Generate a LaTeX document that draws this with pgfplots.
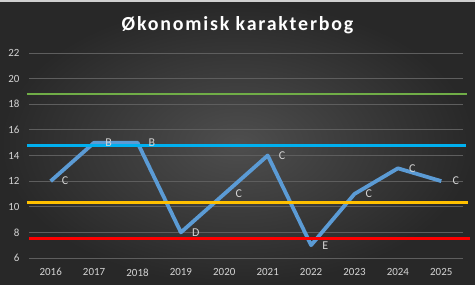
\documentclass[border=0pt]{standalone}
\usepackage{fontspec}
\setmainfont{Carlito}
\usepackage{pgfplots}
\pgfplotsset{compat=1.18}
\definecolor{bgin}{HTML}{4E4E4E}
\definecolor{bgout}{HTML}{282828}
\definecolor{strip}{HTML}{D0D0D0}
\definecolor{gridc}{HTML}{5E5E5E}
\definecolor{tickc}{HTML}{D4D4D4}
\definecolor{datablue}{HTML}{5B9BD5}
\definecolor{lblue}{HTML}{00B0F0}
\definecolor{lgreen}{HTML}{70AD47}
\definecolor{lyellow}{HTML}{FFC000}
\definecolor{lred}{HTML}{FF0000}
\begin{document}
\begin{tikzpicture}
\useasboundingbox (0,0) rectangle (475bp,285bp);
\shade[inner color=bgin, outer color=bgout] (0,0) rectangle (475bp,283bp);
\fill[strip] (0,283bp) rectangle (475bp,285bp);
\node[anchor=base, text=white, inner sep=0pt, font=\fontsize{20}{22}\selectfont\bfseries\addfontfeatures{LetterSpace=9}] at (237.5bp,254bp) {Økonomisk karakterbog};
\begin{axis}[at={(29bp,27bp)}, anchor=south west, scale only axis,
  width=434bp, height=205bp,
  xmin=-0.5, xmax=9.5, ymin=6, ymax=22,
  ytick={6,8,...,22}, xtick={0,1,2,3,4,5,6,7,8,9},
  xticklabels={2016,2017,2018,2019,2020,2021,2022,2023,2024,2025},
  axis line style={draw=none}, major tick length=0pt,
  ymajorgrids, grid style={color=gridc, line width=0.8bp},
  ticklabel style={font=\fontsize{11}{12}\selectfont, text=tickc},
  xticklabel style={yshift=-7bp},
  yticklabel style={xshift=-6bp},
  /pgf/number format/assume math mode=true,
  clip=false]
\addplot[datablue, line width=3.8bp, line join=round, mark=none,
  nodes near coords, point meta=explicit symbolic,
  nodes near coords style={anchor=west, xshift=6bp, text=tickc, font=\fontsize{12}{13}\selectfont}]
  table[meta=g] {
x y g
0 12 C
1 15 B
2 15 B
3 8 D
4 11 C
5 14 C
6 7 E
7 11 C
8 13 C
9 12 C
};
\addplot[lgreen, line width=2.5bp, mark=none] coordinates {(-0.55,18.8) (9.6,18.8)};
\addplot[lblue, line width=2.5bp, mark=none] coordinates {(-0.55,14.77) (9.58,14.77)};
\addplot[lyellow, line width=2.5bp, mark=none] coordinates {(-0.55,10.35) (9.62,10.35)};
\addplot[lred, line width=2.5bp, mark=none] coordinates {(-0.5,7.53) (9.66,7.53)};
\end{axis}
\end{tikzpicture}
\end{document}
